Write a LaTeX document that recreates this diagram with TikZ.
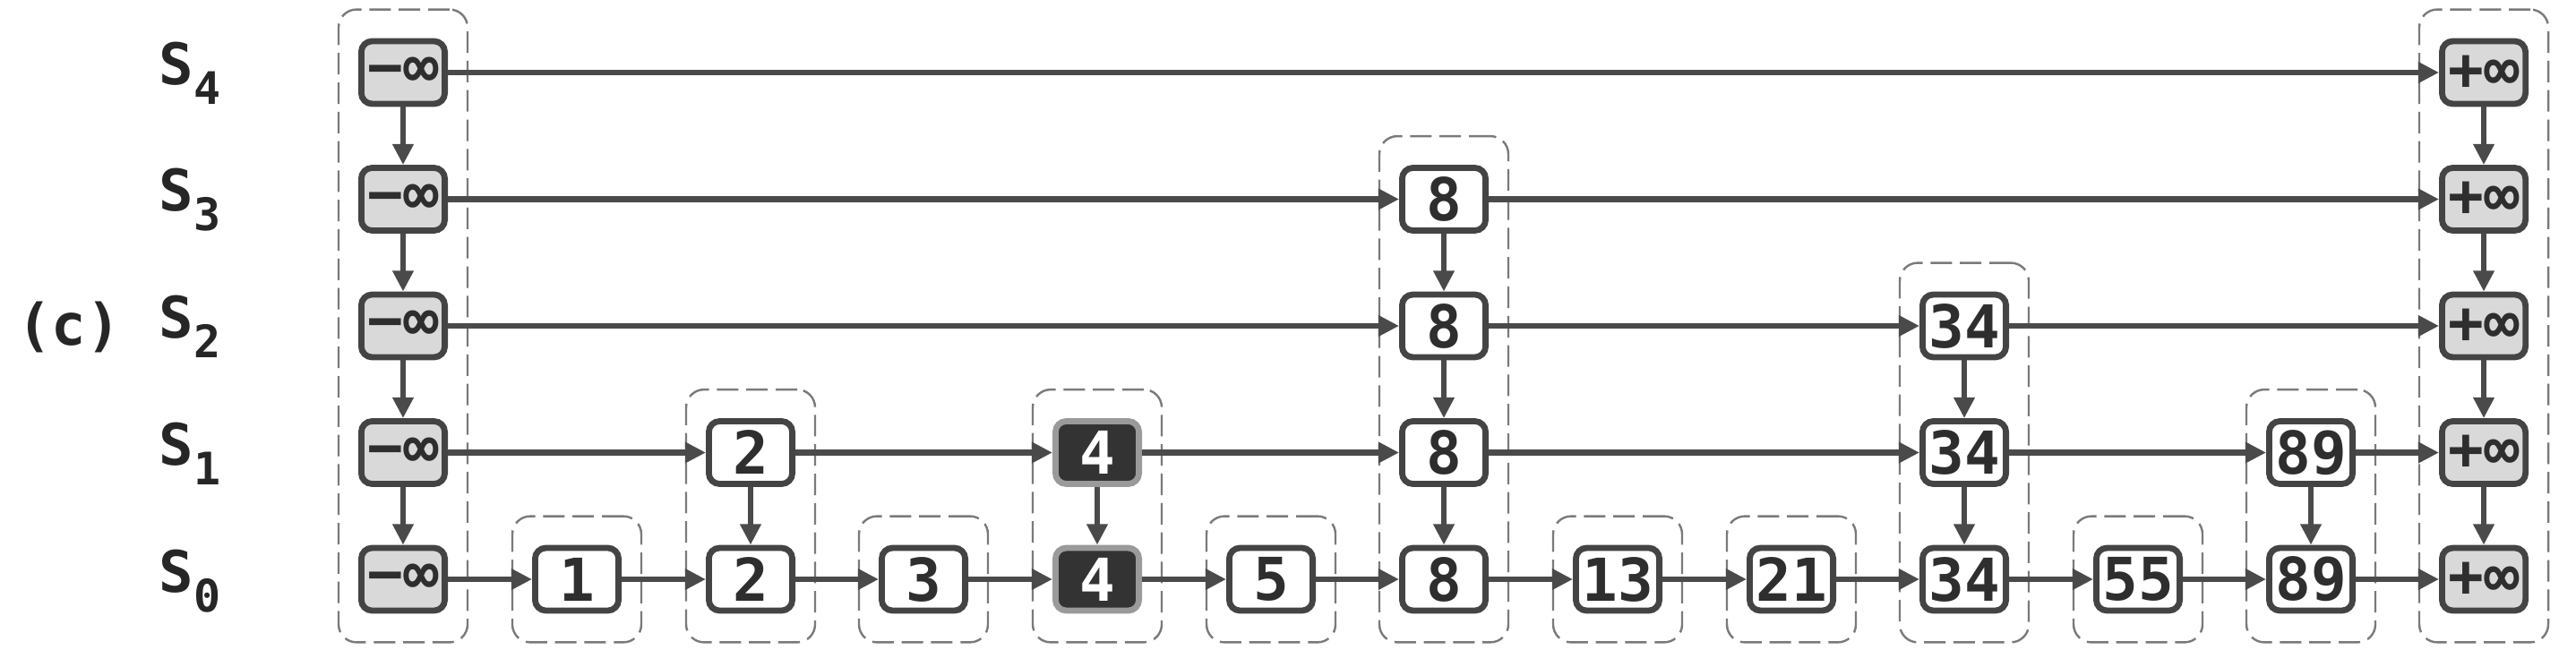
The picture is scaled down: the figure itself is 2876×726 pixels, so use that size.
\documentclass[tikz,border=0pt]{standalone}
\usepackage{fontspec}
\newfontfamily\monof{DejaVu Sans Mono}
\usetikzlibrary{arrows.meta,fit,backgrounds}
\definecolor{boxc}{HTML}{444444}
\definecolor{arrc}{HTML}{4A4A4A}
\definecolor{inff}{HTML}{D9D9D9}
\definecolor{darkf}{HTML}{333333}
\definecolor{darkb}{HTML}{9A9A9A}
\definecolor{grpc}{HTML}{7A7A7A}
\definecolor{txtc}{HTML}{2E2E2E}
\begin{document}
\begin{tikzpicture}[x=0.25pt,y=-0.25pt,
  keybox/.style={draw=boxc, line width=1.7pt, rounded corners=3pt, fill=white,
    minimum width=23.3pt, minimum height=17.5pt, inner sep=0pt,
    font=\monof\bfseries\fontsize{16.5}{18}\selectfont, text=txtc},
  infbox/.style={keybox, fill=inff},
  darkbox/.style={keybox, fill=darkf, draw=darkb, text=white},
  grp/.style={draw=grpc, line width=0.6pt, dash pattern=on 6pt off 2.2pt,
    rounded corners=5pt, inner xsep=5.5pt, inner ysep=8pt},
  arr/.style={draw=arrc, line width=1.7pt, -{Triangle[length=5.8pt,width=5.6pt]}},
  lvl/.style={font=\monof\bfseries\fontsize{16}{18}\selectfont, text=black!85, inner sep=0pt}
]
\useasboundingbox (0,0) rectangle (2876,726);

% level labels
\node[lvl] (lc) at (77,365) {(c)};
\foreach \lv/\yy in {4/81,3/222,2/364,1/505,0/647}
  \node[lvl, anchor=base] (s\lv) at (212,{\yy+14}) {S\raisebox{-5.5pt}{\fontsize{12.5}{14}\selectfont\lv}};

% towers
\foreach \lv in {0,...,4} {
  \node[infbox] (vml\lv) at (450,{647-141.5*\lv}) {−∞};
  \node[infbox] (vpl\lv) at (2773,{647-141.5*\lv}) {+∞};
}
\node[keybox] (v1l0) at (644,647) {1};
\node[keybox] (v2l0) at (838,647) {2};
\node[keybox] (v2l1) at (838,505.5) {2};
\node[keybox] (v3l0) at (1031,647) {3};
\node[darkbox] (v4l0) at (1225,647) {4};
\node[darkbox] (v4l1) at (1225,505.5) {4};
\node[keybox] (v5l0) at (1419,647) {5};
\foreach \lv in {0,...,3}
  \node[keybox] (v8l\lv) at (1612,{647-141.5*\lv}) {8};
\node[keybox] (v13l0) at (1806,647) {13};
\node[keybox] (v21l0) at (2000,647) {21};
\foreach \lv in {0,...,2}
  \node[keybox] (v34l\lv) at (2193,{647-141.5*\lv}) {34};
\node[keybox] (v55l0) at (2387,647) {55};
\node[keybox] (v89l0) at (2580,647) {89};
\node[keybox] (v89l1) at (2580,505.5) {89};

% dashed groups
\begin{scope}[on background layer]
\node[grp, fit=(vml4)(vml0)] (gm) {};
\node[grp, fit=(v1l0)] (g1) {};
\node[grp, fit=(v2l1)(v2l0)] (g2) {};
\node[grp, fit=(v3l0)] (g3) {};
\node[grp, fit=(v4l1)(v4l0)] (g4) {};
\node[grp, fit=(v5l0)] (g5) {};
\node[grp, fit=(v8l3)(v8l0)] (g8) {};
\node[grp, fit=(v13l0)] (g13) {};
\node[grp, fit=(v21l0)] (g21) {};
\node[grp, fit=(v34l2)(v34l0)] (g34) {};
\node[grp, fit=(v55l0)] (g55) {};
\node[grp, fit=(v89l1)(v89l0)] (g89) {};
\node[grp, fit=(vpl4)(vpl0)] (gp) {};
\end{scope}

% vertical arrows
\foreach \a/\b in {vml4/vml3, vml3/vml2, vml2/vml1, vml1/vml0,
  vpl4/vpl3, vpl3/vpl2, vpl2/vpl1, vpl1/vpl0,
  v2l1/v2l0, v4l1/v4l0, v8l3/v8l2, v8l2/v8l1, v8l1/v8l0,
  v34l2/v34l1, v34l1/v34l0, v89l1/v89l0}
  \draw[arr] (\a) -- (\b);

% horizontal arrows
\foreach \a/\b in {vml0/v1l0, v1l0/v2l0, v2l0/v3l0, v3l0/v4l0, v4l0/v5l0,
  v5l0/v8l0, v8l0/v13l0, v13l0/v21l0, v21l0/v34l0, v34l0/v55l0,
  v55l0/v89l0, v89l0/vpl0,
  vml1/v2l1, v2l1/v4l1, v4l1/v8l1, v8l1/v34l1, v34l1/v89l1, v89l1/vpl1,
  vml2/v8l2, v8l2/v34l2, v34l2/vpl2,
  vml3/v8l3, v8l3/vpl3,
  vml4/vpl4}
  \draw[arr] (\a) -- (\b);
\end{tikzpicture}
\end{document}
